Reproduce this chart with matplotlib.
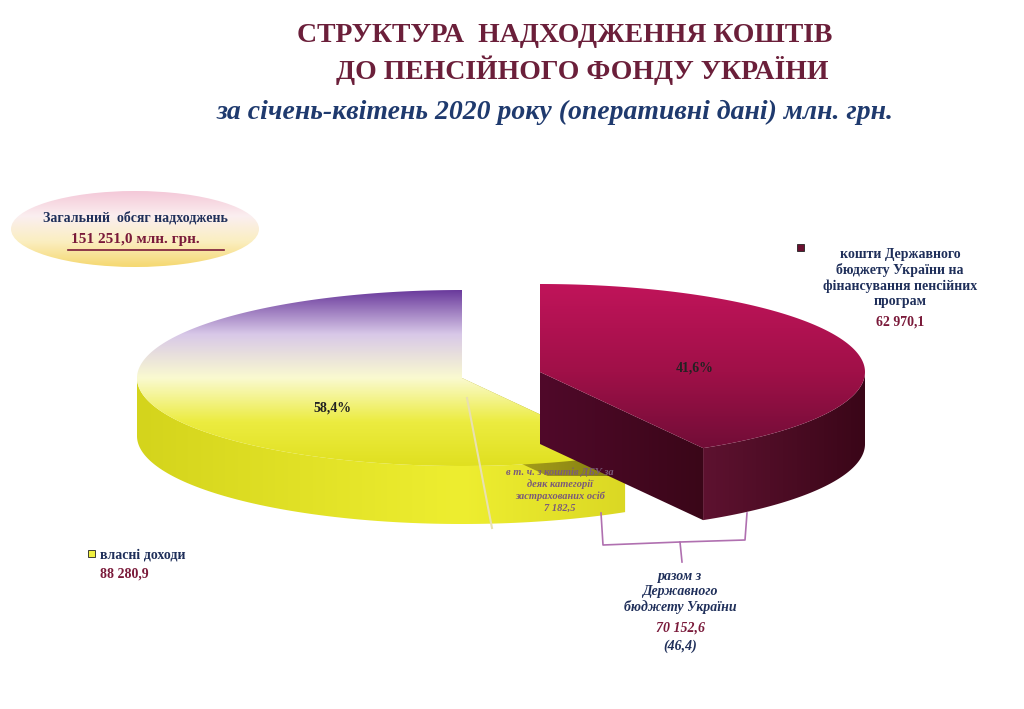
import matplotlib.pyplot as plt
import numpy as np
from matplotlib.patches import Polygon, Ellipse, Rectangle
from matplotlib.colors import LinearSegmentedColormap

plt.rcParams['font.family'] = ['Liberation Serif', 'DejaVu Serif']

# data
labels = ['власні доходи', 'кошти Державного\nбюджету України на\nфінансування пенсійних\nпрограм']
values = [88280.9, 62970.1]
value_text = ['88 280,9', '62 970,1']
pct_text = ['58,4%', '41,6%']
total_text = '151 251,0 млн. грн.'
sub_value = '7 182,5'
combined_value = '70 152,6'
combined_pct = '(46,4)'

fig = plt.figure(figsize=(10.24, 7.09), dpi=100)
ax = fig.add_axes([0, 0, 1, 1])
ax.set_xlim(0, 1024)
ax.set_ylim(709, 0)
ax.axis('off')

RX, RY = 325, 88
fracs = np.array(values) / sum(values)
start = 90.0
a_end = start - 360 * fracs[1]  # boundary angle between slices


def pt(cx, cy, t):
    r = np.radians(t)
    return cx + RX * np.cos(r), cy - RY * np.sin(r)


def arc(cx, cy, t0, t1, n=200):
    t = np.radians(np.linspace(t0, t1, n))
    return np.column_stack([cx + RX * np.cos(t), cy - RY * np.sin(t)])


def gradient_fill(patch, colors, extent, vertical=True, z=3):
    ax.add_patch(patch)
    patch.set_facecolor('none')
    patch.set_edgecolor('none')
    cmap = LinearSegmentedColormap.from_list('g', colors)
    g = np.linspace(0, 1, 256)
    img = g[:, None] if vertical else g[None, :]
    im = ax.imshow(img, cmap=cmap, extent=extent, aspect='auto', zorder=z,
                   interpolation='bicubic')
    im.set_clip_path(patch)


# ---- left slice: own revenues
cx1, cy1, d1 = 462, 378, 58
t0, t1 = start, a_end + 360
top1 = np.vstack([[cx1, cy1], arc(cx1, cy1, t0, t1)])
side = arc(cx1, cy1, 180, t1)
side_poly = np.vstack([side, side[::-1] + [0, d1]])
gradient_fill(Polygon(side_poly, closed=True), ['#d4d41c', '#eeee30', '#c8c218'],
              [cx1 - RX, cx1 + RX, cy1 + RY + d1, cy1 - 10], vertical=False, z=2)
px, py = pt(cx1, cy1, t1)
cut = [[cx1, cy1], [px, py], [px, py + d1], [cx1, cy1 + d1]]
gradient_fill(Polygon(cut, closed=True), ['#b8b020', '#807a10'],
              [cx1, px, cy1 + d1 + 40, cy1], vertical=False, z=2.5)
gradient_fill(Polygon(top1, closed=True),
              ['#6a3a9c', '#d8c8e8', '#fafad0', '#ecec40', '#e0e020'],
              [cx1 - RX, cx1 + RX, cy1 + RY, cy1 - RY], vertical=True, z=3)
ax.plot([cx1 + 5, cx1 + 30], [cy1 + 20, cy1 + 150], color='#e8e0b0', lw=1.5, zorder=4)
ax.text(cx1 - 130, 412, pct_text[0], fontsize=10, weight='bold', color='#222222',
        ha='center', zorder=5)

# ---- right slice: state budget (exploded)
cx2, cy2, d2 = 540, 372, 72
top2 = np.vstack([[cx2, cy2], arc(cx2, cy2, a_end, start)])
side2 = arc(cx2, cy2, a_end, 0)
side_poly2 = np.vstack([side2, side2[::-1] + [0, d2]])
gradient_fill(Polygon(side_poly2, closed=True), ['#4a0a24', '#5e1230', '#3a0618'],
              [cx2, cx2 + RX, cy2 + RY + d2, cy2], vertical=False, z=6)
qx, qy = pt(cx2, cy2, a_end)
cut2 = [[cx2, cy2], [qx, qy], [qx, qy + d2], [cx2, cy2 + d2]]
gradient_fill(Polygon(cut2, closed=True), ['#50092a', '#3a0618'],
              [cx2, qx, cy2 + d2 + 80, cy2], vertical=False, z=6.5)
gradient_fill(Polygon(top2, closed=True), ['#c0145a', '#a01048', '#6a0c34'],
              [cx2, cx2 + RX, cy2 + RY, cy2 - RY], vertical=True, z=7)
ax.text(cx2 + 155, 372, pct_text[1], fontsize=10, weight='bold', color='#222222',
        ha='center', zorder=8)

# sub-part text on yellow side
ax.text(560, 490, 'в т. ч. з коштів ДБУ за\nдеяк категорії\nзастрахованих осіб\n' + sub_value,
        fontsize=7.5, style='italic', weight='bold', color='#7a5a7a', ha='center',
        va='center', linespacing=1.3, zorder=9)

# bracket
ax.plot([601, 603, 680, 682], [513, 545, 542, 562], color='#b070b0', lw=1.2, zorder=9)
ax.plot([680, 745, 747], [542, 540, 513], color='#b070b0', lw=1.2, zorder=9)
ax.text(680, 592, 'разом з\nДержавного\nбюджету України', fontsize=10, style='italic',
        weight='bold', color='#1f2f5a', ha='center', va='center', linespacing=1.2)
ax.text(680, 628, combined_value, fontsize=10, style='italic', weight='bold',
        color='#7a1a3a', ha='center', va='center')
ax.text(680, 646, combined_pct, fontsize=10, style='italic', weight='bold',
        color='#1f2f5a', ha='center', va='center')

# labels
ax.add_patch(Rectangle((797, 244), 7, 7, facecolor='#6a1030', edgecolor='#222222', lw=0.6))
ax.text(900, 278, labels[1], fontsize=10, weight='bold', color='#1f2f5a', ha='center',
        va='center', linespacing=1.2)
ax.text(900, 322, value_text[1], fontsize=10, weight='bold', color='#7a1a3a', ha='center',
        va='center')
ax.add_patch(Rectangle((88, 550), 7, 7, facecolor='#f0f040', edgecolor='#222222', lw=0.6))
ax.text(100, 555, labels[0], fontsize=10, weight='bold', color='#1f2f5a', va='center')
ax.text(100, 574, value_text[0], fontsize=10, weight='bold', color='#7a1a3a', va='center')

# total ellipse
gradient_fill(Ellipse((135, 229), 248, 76), ['#f4c8d8', '#fbeff0', '#fbeec0', '#f5d870'],
              [11, 259, 267, 191], vertical=True, z=3)
ax.text(135, 218, 'Загальний  обсяг надходжень', fontsize=10, weight='bold',
        color='#1f2f5a', ha='center', va='center', zorder=5)
ax.text(135, 240, total_text, fontsize=11, weight='bold', color='#7a1a3a',
        ha='center', va='center', zorder=5)
ax.plot([68, 224], [250, 250], color='#7a1a3a', lw=1.2, zorder=5)

# titles
ax.text(565, 35, 'СТРУКТУРА  НАДХОДЖЕННЯ КОШТІВ', fontsize=20, weight='bold',
        color='#6b1f3a', ha='center', va='center')
ax.text(582, 70, 'ДО ПЕНСІЙНОГО ФОНДУ УКРАЇНИ', fontsize=20, weight='bold',
        color='#6b1f3a', ha='center', va='center')
ax.text(555, 112, 'за січень-квітень 2020 року (оперативні дані) млн. грн.', fontsize=20,
        weight='bold', style='italic', color='#1f3a6e', ha='center', va='center')

fig.savefig('out.png', dpi=100)
